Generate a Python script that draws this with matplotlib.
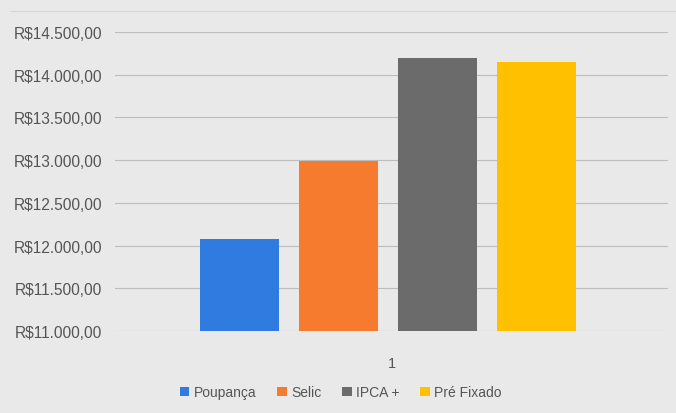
import matplotlib.pyplot as plt
import matplotlib.ticker as ticker
from matplotlib.lines import Line2D
from matplotlib import font_manager

series = ["Poupança", "Selic", "IPCA +", "Pré Fixado"]
values = [12080, 12990, 14200, 14150]
colors = ["#2f7be0", "#f77b2e", "#6b6b6b", "#ffc000"]
categories = ["1"]

names = {f.name for f in font_manager.fontManager.ttflist}
narrow = 'Liberation Sans Narrow' if 'Liberation Sans Narrow' in names else 'Liberation Sans'
plt.rcParams['font.family'] = [narrow, 'DejaVu Sans']

fig = plt.figure(figsize=(6.76, 4.14), dpi=100)
fig.patch.set_facecolor("#e9e9e9")
ax = fig.add_axes([115 / 676, 1 - 332 / 414, 553 / 676, (332 - 33) / 414])
ax.set_facecolor("#e9e9e9")

# faint chart border line near the top
fig.add_artist(Line2D([10 / 676, 1], [1 - 12 / 414] * 2, color="#d6d6d6", linewidth=0.8))

width = 0.143
step = 0.179
for i, (name, v, c) in enumerate(zip(series, values, colors)):
    x = (i - 1.5) * step - 0.006
    ax.bar(x, v, width=width, color=c, label=name, zorder=2)

ax.set_xlim(-0.5, 0.5)
ax.set_ylim(11000, 14500)
ax.yaxis.set_major_locator(ticker.MultipleLocator(500))


def brl(v, pos):
    s = f"{v:,.2f}".replace(",", "X").replace(".", ",").replace("X", ".")
    return "R$" + s


ax.yaxis.set_major_formatter(ticker.FuncFormatter(brl))
ax.set_xticks([0])
ax.set_xticklabels(categories)
ax.grid(axis="y", color="#bdbdbd", linewidth=0.8, zorder=0)
for s in ax.spines.values():
    s.set_visible(False)
ax.tick_params(length=0, labelsize=11.2, colors="#555555")
ax.tick_params(axis="y", pad=9)
ax.tick_params(axis="x", pad=18, labelsize=10.5)

ax.legend(loc="upper center", bbox_to_anchor=(0.408, -0.14), ncol=4, frameon=False,
          handlelength=0.7, handleheight=0.7, handletextpad=0.3, columnspacing=1.5,
          fontsize=10, labelcolor="#555555")

fig.savefig("out.png", dpi=100, facecolor=fig.get_facecolor())
